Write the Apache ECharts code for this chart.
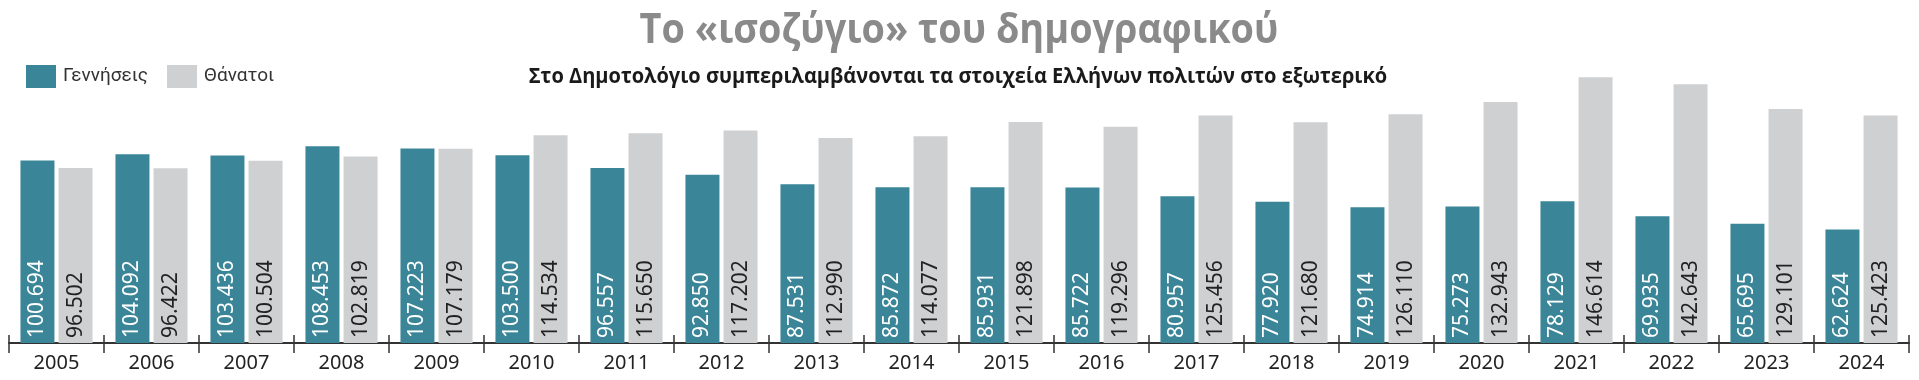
<!DOCTYPE html>
<html>
<head>
<meta charset="utf-8">
<script src="https://cdn.jsdelivr.net/npm/echarts@6/dist/echarts.min.js"></script>
<style>
html,body{margin:0;padding:0;background:#fff;}
#chart{width:1919px;height:380px;}
</style>
</head>
<body>
<div id="chart"></div>
<script>
const years = ['2005','2006','2007','2008','2009','2010','2011','2012','2013','2014','2015','2016','2017','2018','2019','2020','2021','2022','2023','2024'];
const births = [100694,104092,103436,108453,107223,103500,96557,92850,87531,85872,85931,85722,80957,77920,74914,75273,78129,69935,65695,62624];
const deaths = [96502,96422,100504,102819,107179,114534,115650,117202,112990,114077,121898,119296,125456,121680,126110,132943,146614,142643,129101,125423];
const seriesNames = ['Γεννήσεις','Θάνατοι'];
const titleText = 'Το «ισοζύγιο» του δημογραφικού';
const subtitleText = 'Στο Δημοτολόγιο συμπεριλαμβάνονται τα στοιχεία Ελλήνων πολιτών στο εξωτερικό';

const fmt = v => String(v).replace(/\B(?=(\d{3})+(?!\d))/g, '.');
const chart = echarts.init(document.getElementById('chart'), null, {renderer:'canvas'});
const labelBase = {
  show: true, position: 'insideBottom', rotate: 90, align: 'left', verticalAlign: 'middle',
  distance: 5, fontSize: 21, fontFamily: 'Noto Sans',
  formatter: p => fmt(p.value)
};
chart.setOption({
  animation: false,
  backgroundColor: '#fff',
  graphic: [
    {type: 'text', x: 959, y: 10, scaleX: 0.9, silent: true,
     style: {text: titleText, align: 'center', verticalAlign: 'top',
             font: "bold 42px 'Open Sans'", fill: '#8a8a8a'}},
    {type: 'text', x: 958, y: 66, scaleX: 0.91, silent: true,
     style: {text: subtitleText, align: 'center', verticalAlign: 'top',
             font: "bold 22px 'Open Sans'", fill: '#1a1a1a'}}
  ],
  legend: {
    left: 26, top: 65, padding: 0, itemWidth: 30, itemHeight: 23, itemGap: 19,
    icon: 'rect',
    textStyle: {fontFamily: 'Roboto', fontSize: 19, color: '#333', padding: [0,0,0,2]},
    data: seriesNames
  },
  grid: {left: 9, right: 10, top: 71, bottom: 37},
  xAxis: [
    {type: 'category', data: years, position: 'bottom',
     axisLine: {show: true, lineStyle: {color: '#333', width: 2}},
     axisTick: {show: true, inside: false, length: 10, lineStyle: {color: '#333', width: 1.5}},
     axisLabel: {fontFamily: 'Noto Sans', fontSize: 20, color: '#222', margin: 10}},
    {type: 'category', data: years, position: 'bottom', gridIndex: 0,
     axisLine: {show: false},
     axisTick: {show: true, inside: true, length: 8, lineStyle: {color: '#333', width: 1.5}},
     axisLabel: {show: false}}
  ],
  yAxis: {type: 'value', min: 0, max: 150000, show: false},
  series: [
    {name: seriesNames[0], type: 'bar', data: births, barWidth: 34, barGap: '12%',
     itemStyle: {color: '#3a8698'},
     label: Object.assign({}, labelBase, {color: '#fff'})},
    {name: seriesNames[1], type: 'bar', data: deaths, barWidth: 34,
     itemStyle: {color: '#cfd0d2'},
     label: Object.assign({}, labelBase, {color: '#222'})}
  ]
});
</script>
</body>
</html>
